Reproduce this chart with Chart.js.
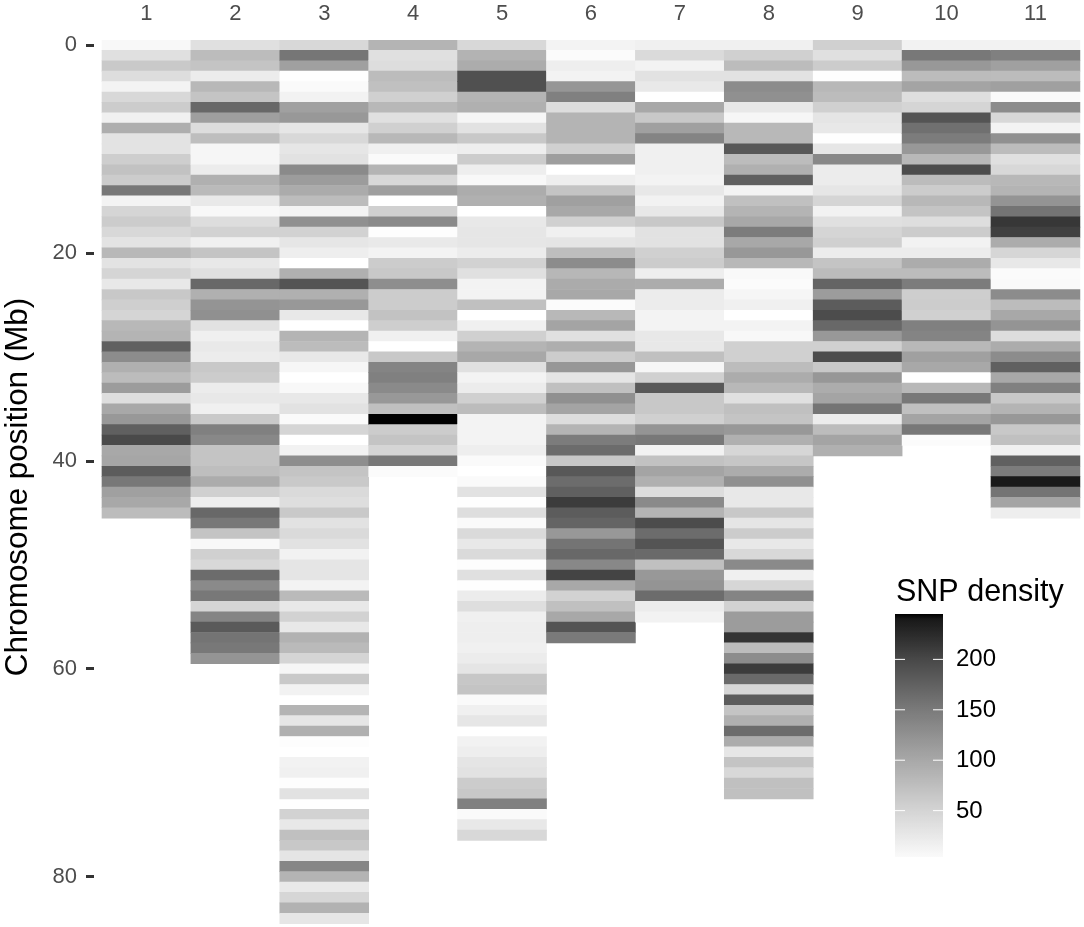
<!DOCTYPE html>
<html>
<head>
<meta charset="utf-8">
<title>SNP density</title>
<script src="https://cdn.jsdelivr.net/npm/chart.js@4"></script>
<style>
  html, body { margin: 0; background: #fff; }
  .wrap { width: 1084px; height: 927px; overflow: hidden; }
  canvas { display: block; }
</style>
</head>
<body>
<!-- panel runs a few px under the window bottom, like the original -->
<div class="wrap"><canvas id="myChart" width="1084" height="934"></canvas></div>
<script>
// SNP density per 1 Mb window, one list per chromosome, first entry is position 0
const chr1 = [6,36,63,39,12,45,59,16,93,32,32,57,71,59,152,12,49,59,45,32,82,32,49,26,64,56,49,82,86,176,130,91,77,113,38,100,117,176,198,100,102,180,152,109,100,77];
const chr2 = [35,77,68,21,82,68,168,110,39,75,9,9,21,91,79,24,6,39,52,16,68,26,35,168,91,122,126,33,16,24,21,64,59,21,26,16,62,143,135,68,68,75,95,55,19,168,152,68,6,55,45,164,133,152,49,139,182,156,152,122];
const chr3 = [45,154,109,1,4,14,109,117,28,45,28,33,133,113,97,77,12,126,52,28,19,0,91,188,91,117,26,0,86,77,26,9,0,6,26,33,4,49,0,14,128,68,62,43,38,62,33,43,33,14,30,30,12,79,26,52,26,89,79,49,9,62,14,null,86,28,91,2,null,14,16,2,33,null,52,26,73,64,30,137,86,24,47,89,28];
const chr4 = [86,35,39,77,73,55,82,35,55,82,16,4,86,45,110,0,55,133,2,24,12,59,64,128,59,59,70,57,16,0,64,139,143,133,117,73,245,59,68,49,152,3];
const chr5 = [45,88,95,192,192,86,91,9,33,64,19,59,19,6,95,91,0,26,28,28,21,52,35,12,12,73,0,16,55,86,100,35,12,21,55,77,12,12,12,19,4,0,4,33,1,38,4,43,26,43,2,35,1,21,38,16,19,19,16,21,30,65,68,4,16,28,null,14,19,30,33,59,64,143,4,26,45];
const chr6 = [12,3,18,12,120,143,39,86,86,86,55,111,0,19,68,109,100,55,16,30,75,130,83,97,100,3,82,104,35,93,59,119,30,73,126,104,39,86,148,164,64,184,164,176,210,180,172,117,156,168,135,203,100,52,73,100,188,150];
const chr7 = [16,43,12,33,24,0,100,64,109,139,16,16,16,12,26,14,26,64,33,33,55,59,19,95,21,21,12,12,26,26,73,9,55,184,64,64,55,122,152,14,70,104,91,39,133,86,196,164,188,166,73,117,122,164,21,14];
const chr8 = [16,55,77,33,130,126,26,9,82,82,184,77,91,176,12,73,86,100,148,100,117,82,5,3,9,16,0,12,6,55,55,77,95,82,35,73,68,117,91,47,66,95,126,26,26,64,30,59,26,45,133,16,47,139,52,113,113,217,77,130,210,166,47,180,68,91,164,95,28,68,45,73,73];
const chr9 = [55,35,59,1,82,77,55,30,26,1,28,135,21,21,28,49,14,35,49,55,21,68,77,172,113,180,196,168,117,55,196,64,119,95,104,156,21,77,104,91];
const chr10 = [14,152,117,77,104,38,49,188,160,148,117,82,196,77,59,82,68,38,59,14,21,95,77,148,57,59,55,143,139,82,109,100,0,82,152,73,104,152,3];
const chr11 = [14,143,109,77,109,4,130,45,12,126,77,35,45,82,86,122,156,214,207,95,47,26,3,4,130,77,100,122,39,95,130,176,100,143,64,86,117,64,73,16,176,148,238,156,104,19];

const chromosomes = [chr1, chr2, chr3, chr4, chr5, chr6, chr7, chr8, chr9, chr10, chr11];
const xTicks = [1, 2, 3, 4, 5, 6, 7, 8, 9, 10, 11];
const yTicks = [0, 20, 40, 60, 80];
const legendTicks = [50, 100, 150, 200];

// density -> grey level
const densityStops = [0, 4, 50, 100, 150, 200, 240, 245];
const greyStops = [255, 250, 212, 168, 122, 72, 24, 0];

const densityColor = (v) => {
  let i = 1;
  while (i < densityStops.length - 1 && v > densityStops[i]) i++;
  const t = (v - densityStops[i - 1]) / (densityStops[i] - densityStops[i - 1]);
  const g = Math.round(greyStops[i - 1] + t * (greyStops[i] - greyStops[i - 1]));
  return `rgb(${g},${g},${g})`;
};

const cells = [];
const cellColors = [];
chromosomes.forEach((values, c) => {
  values.forEach((v, mb) => {
    if (v === null) return;
    cells.push({ x: xTicks[c], y: [mb - 0.5, mb + 0.5] });
    cellColors.push(densityColor(v));
  });
});

const colorBar = {
  id: 'colorBar',
  afterDraw(chart) {
    const ctx = chart.ctx;
    const left = 895, right = 943, top = 614, bottom = 857;
    const min = 4, max = 245;
    const yOf = (v) => bottom - (v - min) / (max - min) * (bottom - top);
    const grad = ctx.createLinearGradient(0, bottom, 0, top);
    for (let v = min; v <= max; v++) {
      grad.addColorStop((v - min) / (max - min), densityColor(v));
    }
    ctx.save();
    ctx.fillStyle = grad;
    ctx.fillRect(left, top, right - left, bottom - top);
    ctx.fillStyle = '#000';
    ctx.textAlign = 'left';
    ctx.textBaseline = 'alphabetic';
    ctx.font = '30.5px "Liberation Sans"';
    ctx.fillText('SNP density', 896, 600.5);
    ctx.textBaseline = 'middle';
    ctx.font = '24px "Liberation Sans"';
    legendTicks.forEach((t) => {
      const y = yOf(t);
      ctx.fillText(String(t), 956, y + 0.5);
      ctx.fillStyle = '#fff';
      ctx.fillRect(left, y - 0.5, 10, 1);
      ctx.fillRect(right - 10, y - 0.5, 10, 1);
      ctx.fillStyle = '#000';
    });
    ctx.restore();
  }
};

new Chart(document.getElementById('myChart').getContext('2d'), {
  type: 'bar',
  data: {
    datasets: [{
      data: cells,
      backgroundColor: cellColors,
      borderWidth: 0,
      barPercentage: 1,
      categoryPercentage: 1,
    }],
  },
  plugins: [colorBar],
  options: {
    responsive: false,
    animation: false,
    plugins: { legend: { display: false }, tooltip: { enabled: false } },
    scales: {
      x: {
        type: 'linear',
        position: 'top',
        offset: false,
        min: 0.41,
        max: 11.546,
        afterBuildTicks: (scale) => { scale.ticks = xTicks.map(v => ({ value: v })); },
        afterFit: (scale) => {
          scale.height = 40;
          scale.paddingLeft = 0;
          scale.paddingRight = 0;
        },
        grid: { display: false },
        border: { display: false },
        ticks: {
          color: '#4d4d4d',
          font: { family: 'Liberation Sans', size: 22 },
          padding: 5,
          maxRotation: 0,
          callback: (v) => String(v),
        },
      },
      y: {
        reverse: true,
        min: -0.5,
        max: 85.5,
        afterBuildTicks: (scale) => { scale.ticks = yTicks.map(v => ({ value: v })); },
        afterFit: (scale) => {
          scale.width = 94;
          scale.paddingTop = 0;
          scale.paddingBottom = 0;
        },
        grid: {
          drawOnChartArea: false,
          drawTicks: true,
          tickLength: 8,
          tickColor: '#333',
          tickWidth: 3,
        },
        border: { display: false },
        ticks: {
          color: '#4d4d4d',
          font: { family: 'Liberation Sans', size: 22 },
          padding: 9,
        },
        title: {
          display: true,
          text: 'Chromosome position (Mb)',
          color: '#000',
          font: { family: 'Liberation Sans', size: 31.4 },
          padding: { top: 0, bottom: 0 },
        },
      },
    },
  },
});
</script>
</body>
</html>
